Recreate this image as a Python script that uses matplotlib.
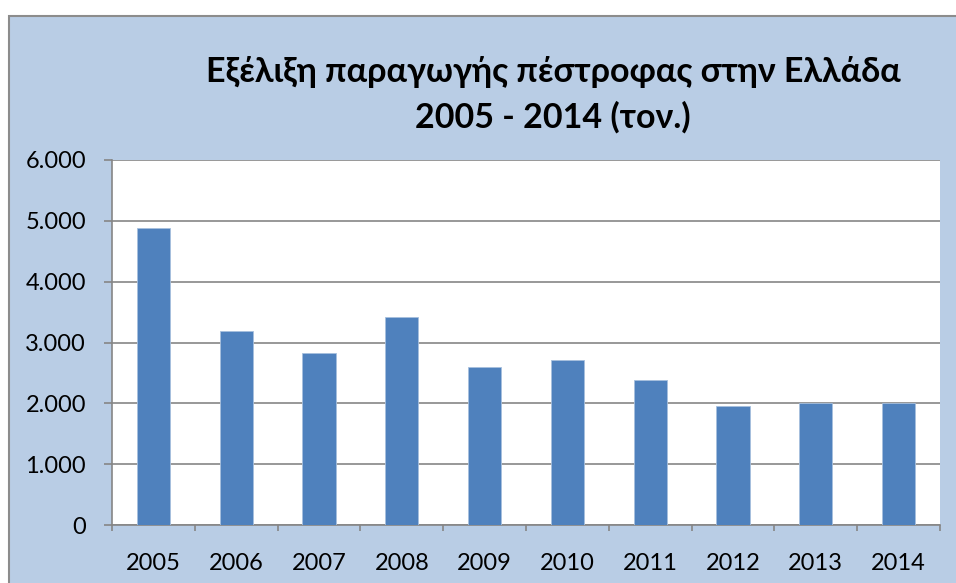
import matplotlib
matplotlib.use("Agg")
import matplotlib.pyplot as plt
from matplotlib.patches import Rectangle
from matplotlib.ticker import FuncFormatter, MultipleLocator

# παραγωγή πέστροφας (τόνοι)
years = ["2005", "2006", "2007", "2008", "2009", "2010", "2011", "2012", "2013", "2014"]
tonnes = [4880, 3190, 2830, 3420, 2590, 2710, 2390, 1960, 2010, 2010]

plt.rcParams['font.family'] = ['Lato', 'DejaVu Sans']

fig = plt.figure(figsize=(9.56, 5.83), dpi=100)
fig.patch.set_facecolor("white")

# γαλάζιο φόντο του γραφήματος με γκρι περίγραμμα
W, H = 956, 583
bg = Rectangle((9 / W, -0.05), 1.1, 1 - 16 / H + 0.05, transform=fig.transFigure,
               facecolor="#B9CDE5", edgecolor="#8C8C8C", linewidth=1.5, zorder=-1)
fig.patches.append(bg)

ax = fig.add_axes([112 / W, 58 / H, 828 / W, 365 / H])
ax.set_facecolor("white")

x = range(len(years))
ax.bar(x, tonnes, width=0.4, color="#4F81BD", edgecolor="#A7C0DE", linewidth=0.6, zorder=3)

ax.set_xlim(-0.5, len(years) - 0.5)
ax.set_ylim(0, 6000)
ax.yaxis.set_major_locator(MultipleLocator(1000))
ax.yaxis.set_major_formatter(FuncFormatter(lambda v, p: f"{int(v):,}".replace(",", ".")))
ax.grid(axis="y", color="#868686", linewidth=1.2, zorder=1)

ax.set_xticks(list(x))
ax.set_xticklabels(years)
ax.set_xticks([i - 0.5 for i in range(len(years) + 1)], minor=True)
ax.tick_params(axis="x", which="major", length=0, pad=20, labelsize=17)
ax.tick_params(axis="x", which="minor", length=4.5, width=1.2, color="#868686", direction="out")
ax.tick_params(axis="y", length=5.8, width=1.2, color="#868686", pad=13, labelsize=17)

for s in ["top", "right"]:
    ax.spines[s].set_visible(False)
for s in ["left", "bottom"]:
    ax.spines[s].set_color("#868686")
    ax.spines[s].set_linewidth(1.2)

fig.text(553 / W, 1 - 95 / H, "Εξέλιξη παραγωγής πέστροφας στην Ελλάδα\n2005 - 2014 (τον.)",
         ha="center", va="center", fontsize=24.5, fontweight="bold", linespacing=1.5)

fig.savefig("out.png", dpi=100)
